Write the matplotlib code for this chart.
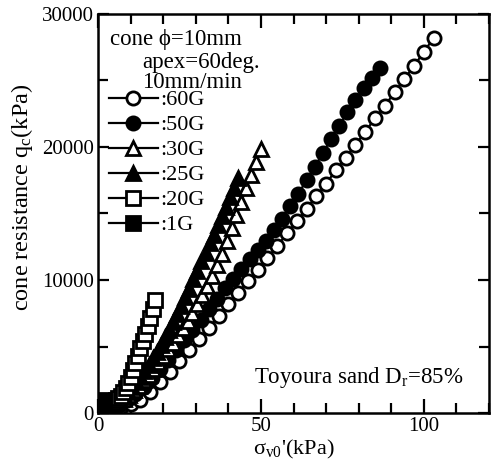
import matplotlib
matplotlib.use("Agg")
import matplotlib.pyplot as plt
from matplotlib.ticker import MultipleLocator, FixedLocator

plt.rcParams['font.family'] = ['Liberation Serif', 'DejaVu Serif']
plt.rcParams['mathtext.fontset'] = 'custom'
plt.rcParams['mathtext.rm'] = 'Liberation Serif'
plt.rcParams['mathtext.it'] = 'Liberation Serif:italic'

# ---- data (sigma_v0' in kPa, q_c in kPa) ----
x_60G = [1, 4, 7, 10, 13, 16, 19, 22, 25, 28, 31, 34, 37, 40, 43, 46, 49, 52, 55, 58,
         61, 64, 67, 70, 73, 76, 79, 82, 85, 88, 91, 94, 97, 100, 103]
q_60G = [100, 250, 430, 650, 1000, 1550, 2350, 3100, 3900, 4700, 5550, 6400, 7300, 8200,
         9050, 9900, 10750, 11650, 12550, 13500, 14400, 15350, 16300, 17250, 18250, 19200,
         20150, 21150, 22150, 23100, 24100, 25100, 26100, 27150, 28200]

x_50G = [1.5, 4, 6.5, 9, 11.5, 14, 16.5, 19, 21.5, 24, 26.5, 29, 31.5, 34, 36.5, 39, 41.5,
         44, 46.5, 49, 51.5, 54, 56.5, 59, 61.5, 64, 66.5, 69, 71.5, 74, 76.5, 79, 81.5, 84, 86.5]
q_50G = [150, 330, 600, 950, 1400, 1950, 2600, 3300, 4000, 4750, 5500, 6250, 7000, 7800,
         8600, 9400, 10100, 10850, 11550, 12250, 12950, 13750, 14600, 15550, 16500, 17500,
         18500, 19550, 20600, 21600, 22600, 23500, 24400, 25200, 25950]

x_30G = [0.5, 2.0, 3.5, 5.0, 6.5, 8.0, 9.5, 11, 12.5, 14, 15.5, 17, 18.5, 20, 21.5, 23, 24.5,
         26, 27.5, 29, 30.5, 32, 33.5, 35, 36.5, 38, 39.5, 41, 42.5, 44, 45.5, 47, 48.5, 50]
q_30G = [100, 200, 350, 550, 800, 1050, 1350, 1700, 2050, 2450, 2850, 3300, 3800, 4300,
         4800, 5300, 5850, 6400, 6950, 7550, 8200, 8850, 9550, 10300, 11100, 11950, 12900,
         13900, 14900, 15900, 16900, 17900, 18900, 19850]

x_25G = [0.5, 1.75, 3, 4.25, 5.5, 6.75, 8, 9.25, 10.5, 11.75, 13, 14.25, 15.5, 16.75, 18,
         19.25, 20.5, 21.75, 23, 24.25, 25.5, 26.75, 28, 29.25, 30.5, 31.75, 33, 34.25,
         35.5, 36.75, 38, 39.25, 40.5, 41.75, 43]
q_25G = [100, 220, 380, 560, 780, 1020, 1300, 1600, 1950, 2300, 2700, 3150, 3600, 4100,
         4600, 5150, 5700, 6250, 6850, 7450, 8050, 8700, 9350, 10050, 10700, 11400, 12050,
         12750, 13400, 14100, 14800, 15500, 16250, 16950, 17700]

x_20G = [0.25, 1.0, 1.75, 2.5, 3.25, 4.0, 4.75, 5.5, 6.25, 7.0, 7.75, 8.5, 9.25, 10.0,
         10.75, 11.5, 12.25, 13.0, 13.75, 14.5, 15.25, 16.0, 16.75, 17.5]
q_20G = [300, 400, 480, 560, 640, 730, 830, 950, 1100, 1300, 1550, 1850, 2250, 2700,
         3200, 3750, 4300, 4850, 5400, 5950, 6550, 7150, 7800, 8500]

x_1G = [0.1, 0.2, 0.3, 0.4, 0.5, 0.6, 0.7, 0.8, 0.9, 1.0, 1.1, 1.2, 1.3, 1.4, 1.5, 1.6, 1.7]
q_1G = [60, 130, 190, 250, 310, 370, 420, 480, 530, 580, 630, 690, 740, 790, 840, 890, 950]

series = [
    (x_60G, q_60G, 'o', 'white', ':60G'),
    (x_50G, q_50G, 'o', 'black', ':50G'),
    (x_30G, q_30G, '^', 'white', ':30G'),
    (x_25G, q_25G, '^', 'black', ':25G'),
    (x_20G, q_20G, 's', 'white', ':20G'),
    (x_1G, q_1G, 's', 'black', ':1G'),
]

x_ticks = [0, 50, 100]
y_ticks = [0, 10000, 20000, 30000]

fig = plt.figure(figsize=(4.94, 4.61), dpi=100)
ax = fig.add_axes([98/494, 48/461, 391/494, 399/461])

for xs, ys, m, fc, lab in series:
    ax.plot(xs, ys, color='black', lw=1.6, marker=m, markersize=9.5,
            markerfacecolor=fc, markeredgecolor='black', markeredgewidth=2.0,
            label=lab)

ax.set_xlim(0, 120)
ax.set_ylim(0, 30000)
ax.xaxis.set_major_locator(FixedLocator(x_ticks))
ax.xaxis.set_minor_locator(MultipleLocator(10))
ax.yaxis.set_major_locator(FixedLocator(y_ticks))
ax.yaxis.set_minor_locator(MultipleLocator(5000))
ax.tick_params(which='both', direction='in', top=True, right=True, width=1.6,
               labelsize=15)
ax.tick_params(axis='x', which='major', length=10, pad=3)
ax.tick_params(axis='x', which='minor', length=7)
ax.tick_params(axis='y', which='major', length=8, pad=3)
ax.tick_params(axis='y', which='minor', length=7)
for s in ax.spines.values():
    s.set_linewidth(1.8)

ax.set_xlabel("σ$_{\\mathrm{v0}}$'(kPa)", fontsize=16, labelpad=1)
ax.set_ylabel("cone resistance q$_{\\mathrm{c}}$(kPa)", fontsize=17.5)
ax.yaxis.set_label_coords(-0.162, 0.54)

ax.text(0.031, 0.922, "cone ϕ=10mm", transform=ax.transAxes, fontsize=16.5, va='baseline')
ax.text(0.113, 0.865, "apex=60deg.", transform=ax.transAxes, fontsize=16.5, va='baseline')
ax.text(0.113, 0.815, "10mm/min", transform=ax.transAxes, fontsize=16.5, va='baseline')
ax.text(0.935, 0.075, "Toyoura sand D$_{\\mathrm{r}}$=85%", transform=ax.transAxes,
        fontsize=16.5, ha='right', va='baseline')

ax.legend(loc='upper left', bbox_to_anchor=(0.028, 0.81), frameon=False,
          fontsize=16, handlelength=2.2, handletextpad=0.1, labelspacing=0.2,
          borderpad=0, borderaxespad=0, markerscale=1.0)

fig.savefig("out.png", dpi=100)
